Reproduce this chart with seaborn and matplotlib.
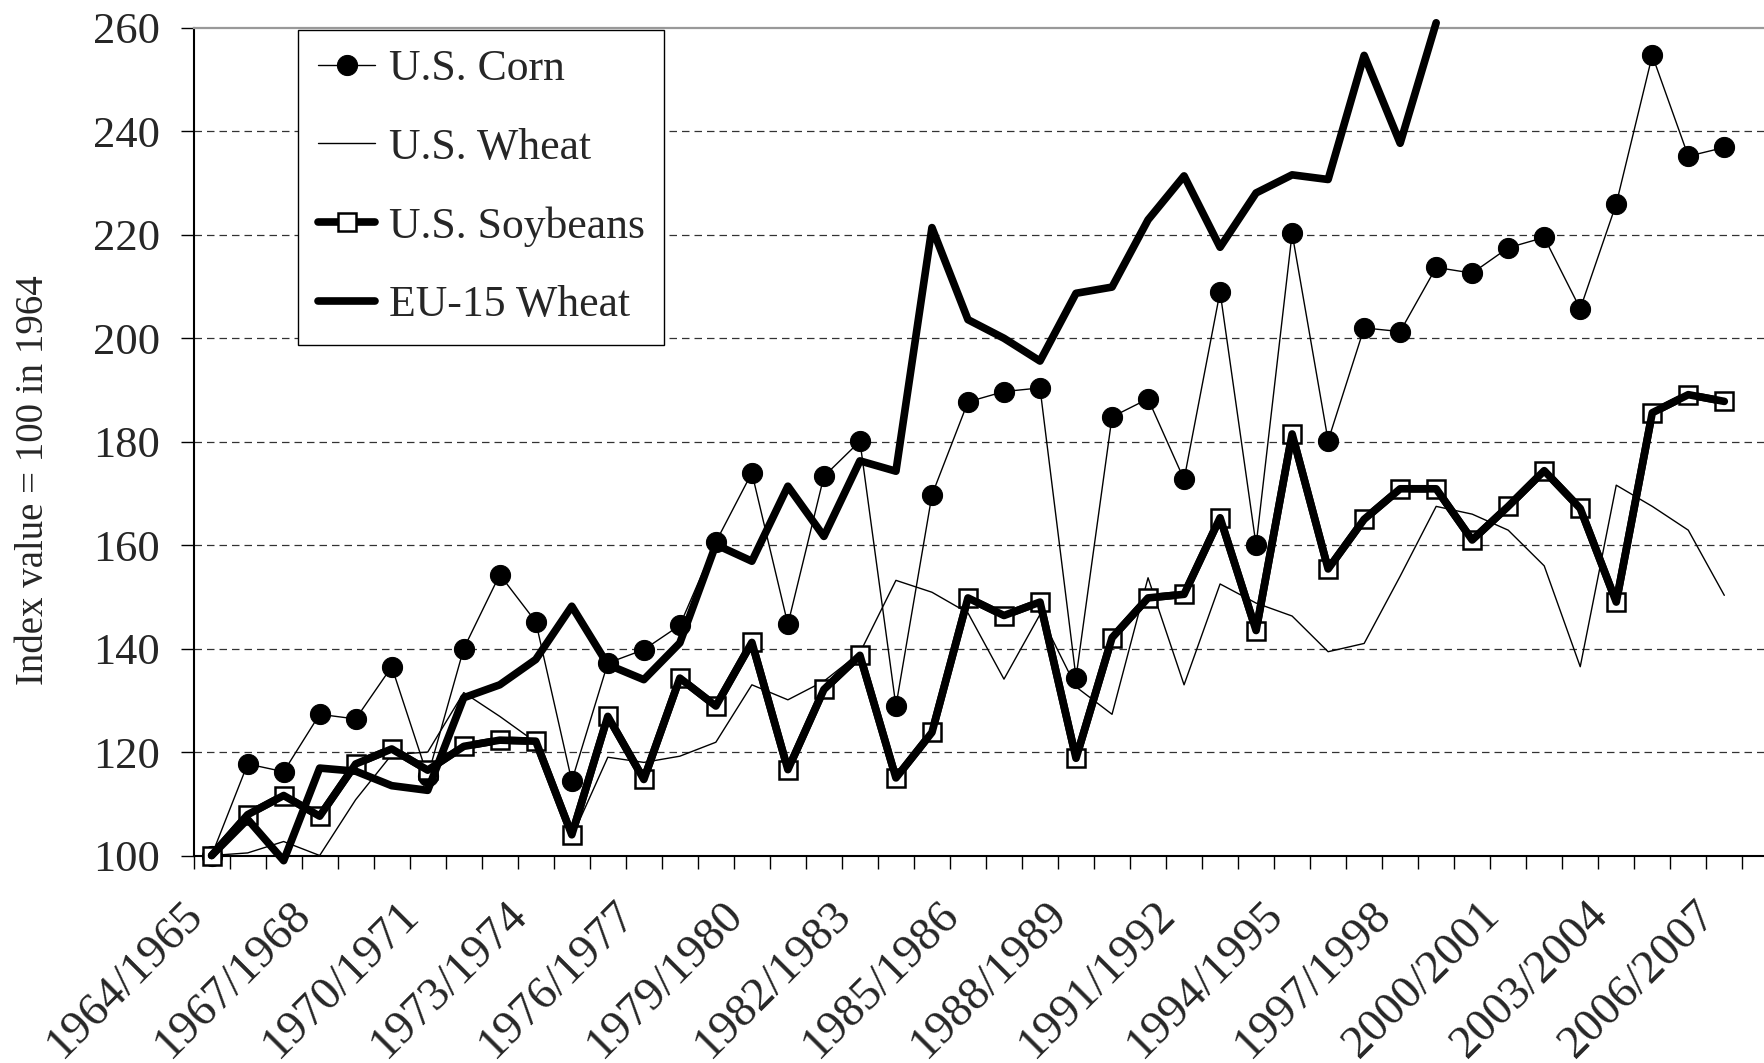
import numpy as np
import pandas as pd
import seaborn as sns
import matplotlib.pyplot as plt
from matplotlib.transforms import ScaledTranslation

# marketing years 1964/1965 .. 2006/2007
years = [f"{y}/{y + 1}" for y in range(1964, 2007)]

# index values, 1964 = 100
us_corn = [100.0, 117.7, 116.2, 127.3, 126.4, 136.5, 115.3, 140.0, 154.3, 145.2,
           114.4, 137.2, 139.8, 144.5, 160.6, 174.0, 144.7, 173.3, 180.1, 128.9,
           169.7, 187.7, 189.7, 190.4, 134.4, 184.8, 188.3, 172.7, 209.0, 160.0,
           220.3, 180.2, 202.0, 201.3, 213.7, 212.6, 217.5, 219.5, 205.7, 226.0,
           254.7, 235.2, 236.9]
us_wheat = [100.0, 100.5, 102.7, 100.0, 110.8, 119.5, 120.0, 131.5, 126.9, 121.9,
            103.5, 119.0, 118.0, 119.2, 121.9, 133.0, 130.1, 133.7, 139.2, 153.2,
            150.9, 146.9, 134.1, 146.6, 132.6, 127.3, 153.7, 133.0, 152.5, 148.8,
            146.3, 139.4, 141.0, 154.0, 167.5, 166.0, 162.9, 156.0, 136.5, 171.6,
            167.5, 162.9, 150.3]
us_soybeans = [100.0, 107.9, 111.6, 107.6, 117.7, 120.6, 116.5, 121.1, 122.3, 122.1,
               104.0, 126.9, 114.7, 134.3, 128.9, 141.2, 116.6, 132.1, 138.7, 115.0,
               123.8, 149.8, 146.4, 149.0, 118.8, 142.1, 149.8, 150.5, 165.3, 143.5,
               181.5, 155.4, 165.0, 170.9, 170.9, 161.0, 167.5, 174.4, 167.1, 149.0,
               185.6, 189.1, 187.8]
eu15_wheat = [100.0, 107.0, 99.0, 116.9, 116.3, 113.5, 112.6, 130.5, 133.0, 137.9,
              148.2, 136.9, 134.0, 141.1, 160.1, 156.9, 171.4, 161.7, 176.3, 174.3,
              221.4, 203.6, 200.0, 195.6, 208.7, 209.9, 222.9, 231.4, 217.6, 228.1,
              231.6, 230.7, 254.7, 237.7, 261.0]

idx = np.arange(len(years))
df = pd.DataFrame({"i": idx, "corn": us_corn, "wheat": us_wheat, "soy": us_soybeans})
df["eu"] = pd.Series(eu15_wheat)

sns.set_theme(style="white")
plt.rcParams["font.family"] = ["Liberation Serif", "DejaVu Serif"]

fig = plt.figure(figsize=(17.65, 10.63), dpi=100)
ax = fig.add_axes([0.1097, 0.1952, 0.8903, 0.7785])

sns.lineplot(data=df, x="i", y="corn", color="black", lw=1, marker="o", ms=14.5,
             mec="black", label="U.S. Corn", clip_on=False, ax=ax, zorder=3)
sns.lineplot(data=df, x="i", y="wheat", color="black", lw=1, label="U.S. Wheat",
             clip_on=False, ax=ax, zorder=3)
sns.lineplot(data=df, x="i", y="soy", color="black", lw=5.5, marker="s", ms=13,
             mfc="white", mec="black", mew=1.8, label="U.S. Soybeans",
             clip_on=False, ax=ax, zorder=4)
# line on top of the square markers, like the original
sns.lineplot(data=df, x="i", y="soy", color="black", lw=5.5, clip_on=False,
             ax=ax, zorder=4.5)
sns.lineplot(data=df.dropna(subset=["eu"]), x="i", y="eu", color="black", lw=5.5,
             label="EU-15 Wheat", clip_on=False, ax=ax, zorder=5)

ax.set_ylim(100, 260)
ax.set_xlim(-0.5, 43.13)
ax.set_yticks(range(100, 261, 20))
ax.set_xticks(idx[::3])
ax.set_xticklabels(years[::3], rotation=45, ha="right", va="top",
                   rotation_mode="anchor", fontsize=34)
ax.set_xticks(np.arange(-0.5, len(years), 1), minor=True)
ax.tick_params(axis="x", which="major", length=0, pad=27)
ax.tick_params(axis="x", which="minor", length=9.5, width=1, direction="out",
               color="black", bottom=True)
ax.tick_params(axis="y", length=9.5, width=1, direction="out", color="black",
               left=True, labelsize=32, pad=14.5)
for lab in ax.get_xticklabels():
    lab.set_transform(lab.get_transform() + ScaledTranslation(-0.30, 0, fig.dpi_scale_trans))

ax.yaxis.grid(True, linestyle=(0, (6, 4)), color="#333333", lw=0.9)
ax.xaxis.grid(False)
ax.yaxis.get_gridlines()[-1].set_visible(False)
ax.yaxis.get_gridlines()[0].set_visible(False)

for side in ["left", "bottom"]:
    ax.spines[side].set_color("black")
    ax.spines[side].set_linewidth(1.5)
ax.spines["top"].set_color("#999999")
ax.spines["top"].set_linewidth(1.6)
ax.spines["right"].set_visible(False)

ax.set_xlabel("")
ax.set_ylabel("Index value = 100 in 1964", fontsize=28)
ax.yaxis.set_label_coords(-0.09, 0.453)

handles, labels = ax.get_legend_handles_labels()
leg = ax.legend(handles, labels, loc="upper left", bbox_to_anchor=(0.0664, 0.998),
                borderaxespad=0, fontsize=31.5, frameon=True, fancybox=False,
                framealpha=1, edgecolor="black", handlelength=1.32,
                handletextpad=0.3, labelspacing=0.88, borderpad=0.45)
leg.get_frame().set_linewidth(1)
leg.set_zorder(10)

fig.savefig("out.png", dpi=100, facecolor="white")
